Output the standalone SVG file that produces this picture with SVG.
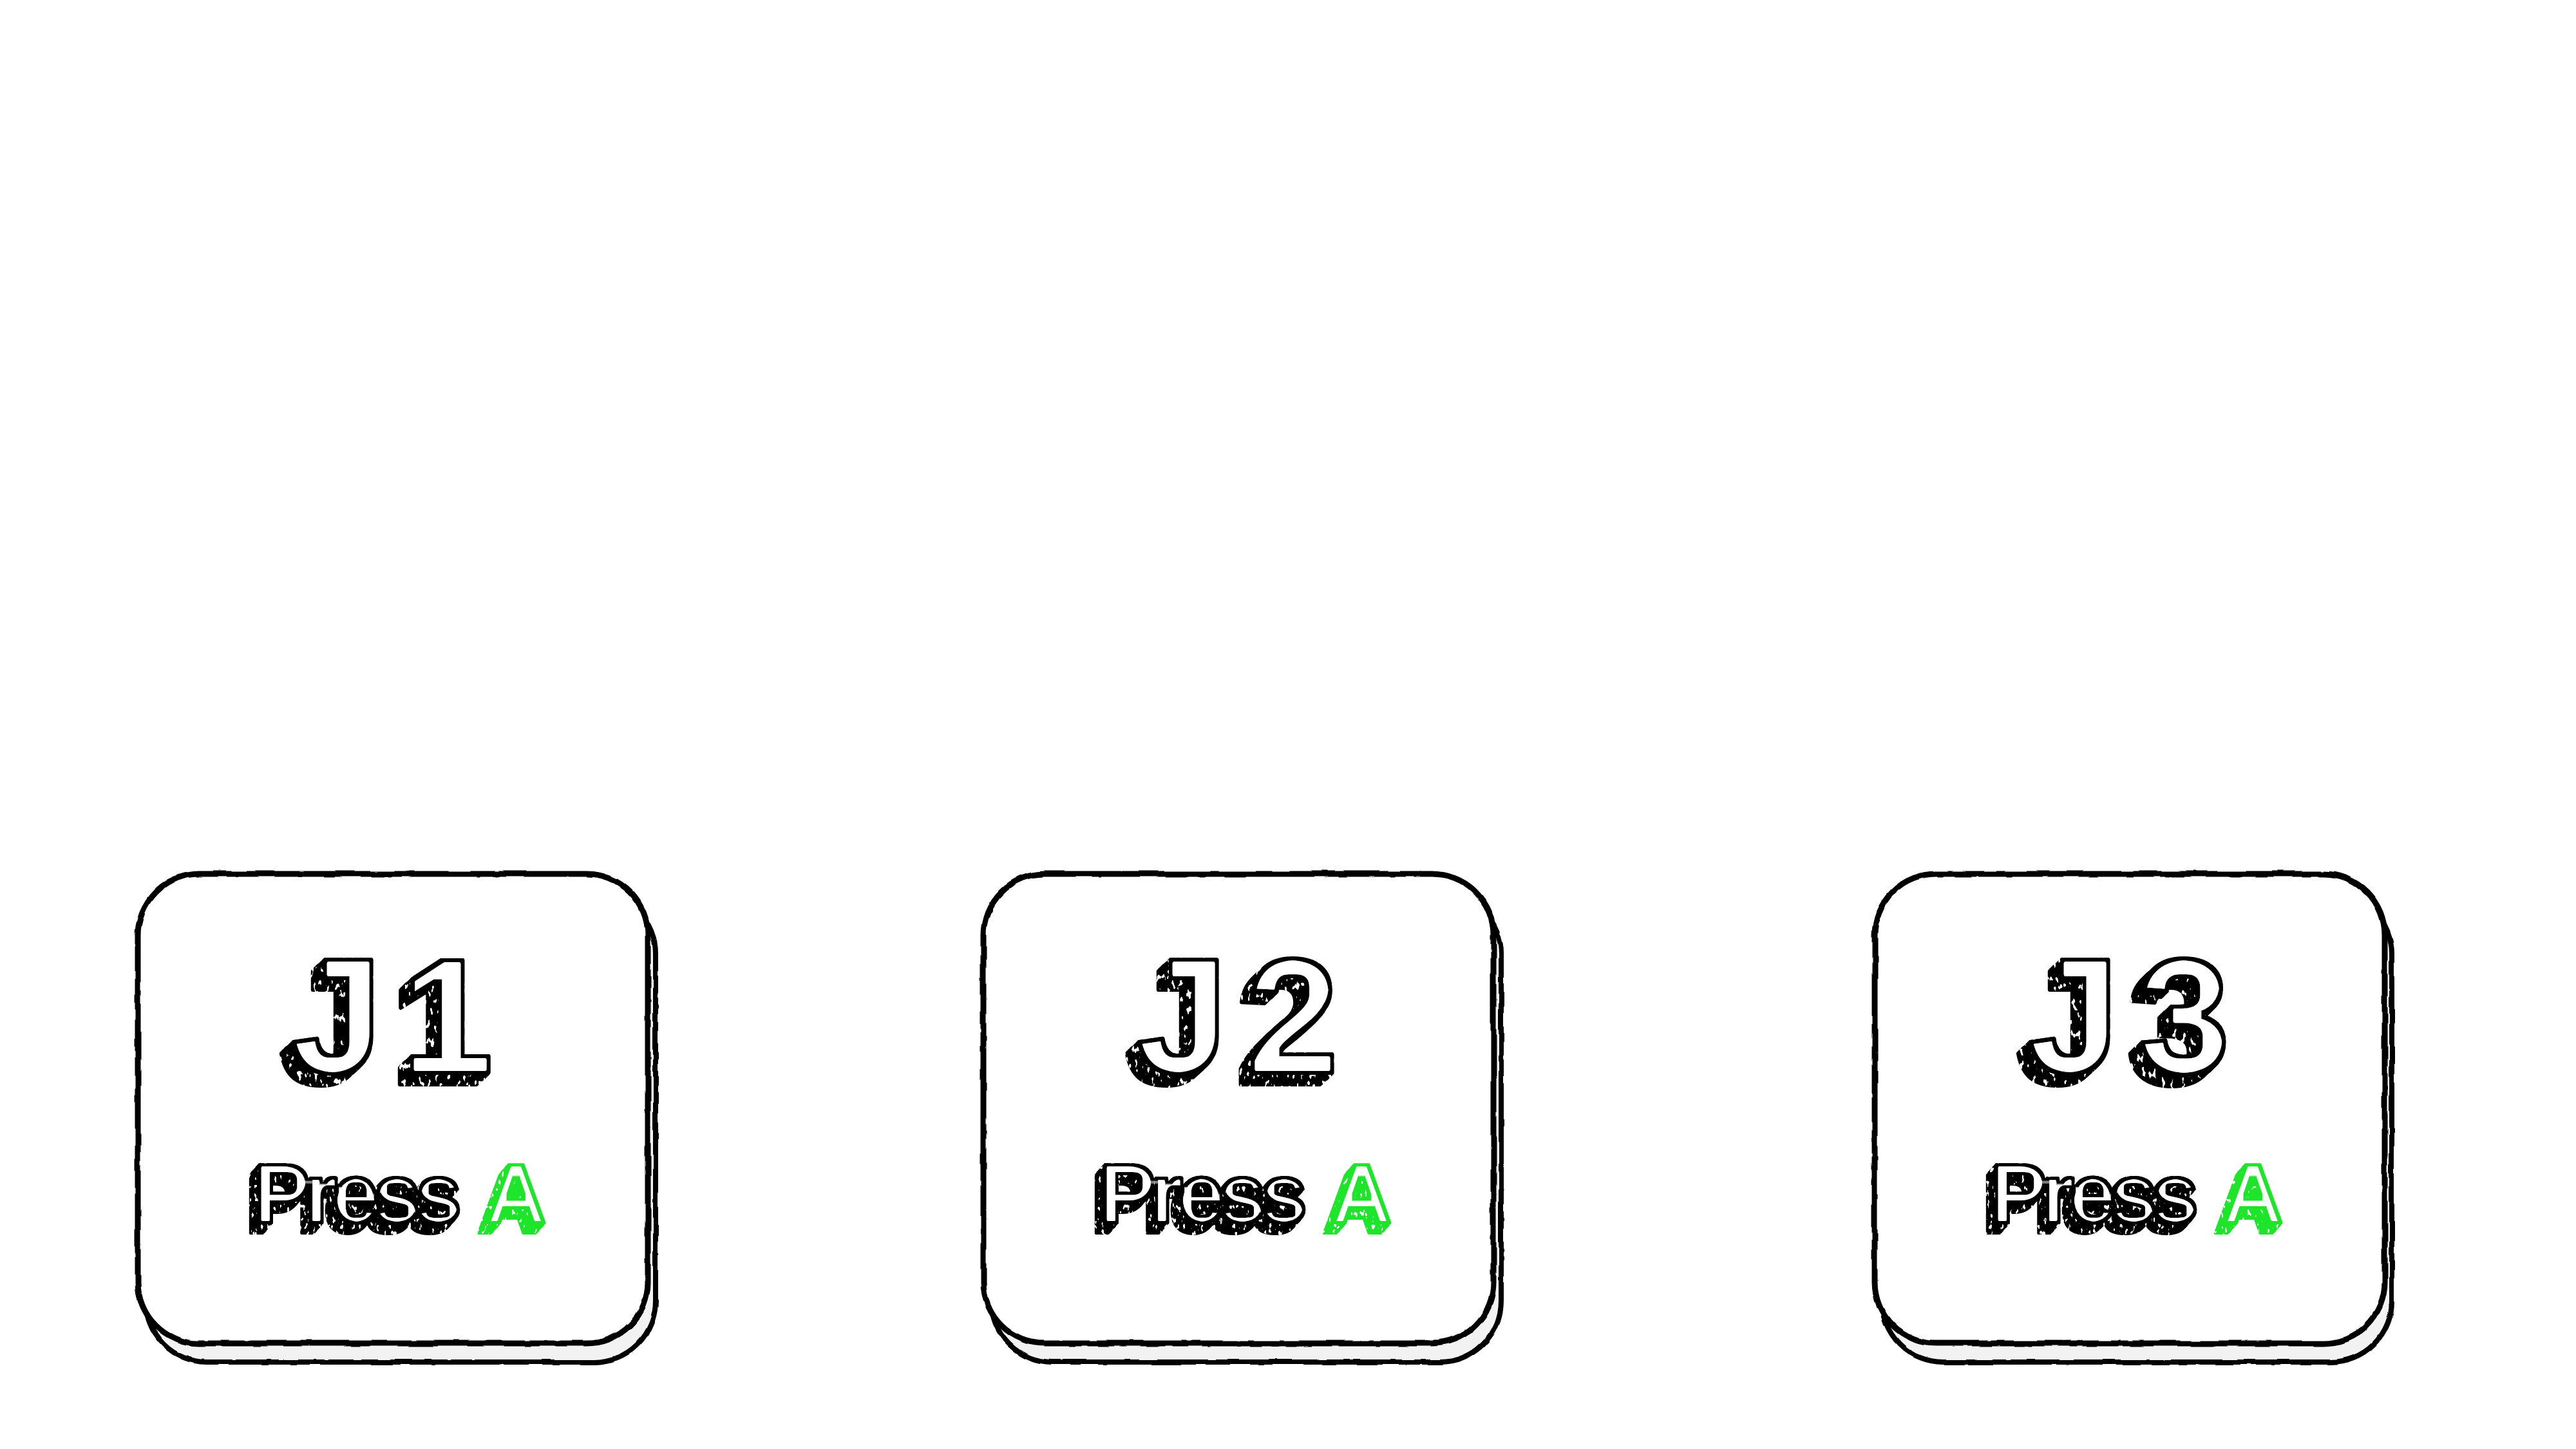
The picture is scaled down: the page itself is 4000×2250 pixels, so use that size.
<svg xmlns="http://www.w3.org/2000/svg" width="4000" height="2250" viewBox="0 0 4000 2250">
  <style>
    .shadow { fill: #f2f2f2; stroke: #000; stroke-width: 8; filter: url(#rough); }
    .face { fill: #ffffff; stroke: #000; stroke-width: 9; filter: url(#rough); }
    .big { font-family: "Liberation Sans", Arial, sans-serif; font-weight: 700; font-size: 255px; letter-spacing: 30px; fill: #000; stroke: #000; stroke-width: 6; stroke-linejoin: round; filter: url(#ext-big); }
    .small { font-family: "Liberation Sans", Arial, sans-serif; font-weight: 700; font-size: 132px; letter-spacing: -9px; fill: #000; stroke: #000; stroke-width: 4; stroke-linejoin: round; filter: url(#ext-small); }
    .green { fill: #1fe52c; stroke: #1fe52c; }
  </style>
  <defs>
    <filter id="rough" x="-5%" y="-5%" width="110%" height="110%">
      <feTurbulence type="fractalNoise" baseFrequency="0.03" numOctaves="2" seed="3" result="n"/>
      <feDisplacementMap in="SourceGraphic" in2="n" scale="5" xChannelSelector="R" yChannelSelector="G"/>
    </filter>
    <filter id="ext-big" x="-25%" y="-25%" width="150%" height="150%">
      <feOffset in="SourceGraphic" dx="-2.5" dy="2.25" result="o1"/>
      <feMerge result="m1"><feMergeNode in="SourceGraphic"/><feMergeNode in="o1"/></feMerge>
      <feOffset in="m1" dx="-5" dy="4.5" result="o2"/>
      <feMerge result="m2"><feMergeNode in="m1"/><feMergeNode in="o2"/></feMerge>
      <feOffset in="m2" dx="-10" dy="9" result="o3"/>
      <feMerge result="m3"><feMergeNode in="m2"/><feMergeNode in="o3"/></feMerge>
      <feOffset in="m3" dx="-2.5" dy="2.25" result="o4"/>
      <feMerge result="ext"><feMergeNode in="m3"/><feMergeNode in="o4"/></feMerge>
      <feTurbulence type="fractalNoise" baseFrequency="0.16 0.08" numOctaves="2" seed="7" result="noise"/>
      <feColorMatrix in="noise" type="matrix" values="0 0 0 0 1  0 0 0 0 1  0 0 0 0 1  -18 0 0 0 6.6" result="specks"/>
      <feComposite in="specks" in2="ext" operator="in" result="specksIn"/>
      <feMorphology in="SourceAlpha" operator="erode" radius="6" result="coreA"/>
      <feFlood flood-color="#ffffff" result="white"/>
      <feComposite in="white" in2="coreA" operator="in" result="core"/>
      <feMerge>
        <feMergeNode in="ext"/>
        <feMergeNode in="specksIn"/>
        <feMergeNode in="SourceGraphic"/>
        <feMergeNode in="core"/>
      </feMerge>
    </filter>
    <filter id="ext-small" x="-15%" y="-30%" width="130%" height="160%">
      <feOffset in="SourceGraphic" dx="-1.75" dy="1.9" result="o1"/>
      <feMerge result="m1"><feMergeNode in="SourceGraphic"/><feMergeNode in="o1"/></feMerge>
      <feOffset in="m1" dx="-3.5" dy="3.8" result="o2"/>
      <feMerge result="m2"><feMergeNode in="m1"/><feMergeNode in="o2"/></feMerge>
      <feOffset in="m2" dx="-7" dy="7.6" result="o3"/>
      <feMerge result="m3"><feMergeNode in="m2"/><feMergeNode in="o3"/></feMerge>
      <feOffset in="m3" dx="-1.75" dy="1.9" result="o4"/>
      <feMerge result="ext"><feMergeNode in="m3"/><feMergeNode in="o4"/></feMerge>
      <feTurbulence type="fractalNoise" baseFrequency="0.2 0.1" numOctaves="2" seed="11" result="noise"/>
      <feColorMatrix in="noise" type="matrix" values="0 0 0 0 1  0 0 0 0 1  0 0 0 0 1  -18 0 0 0 6.4" result="specks"/>
      <feComposite in="specks" in2="ext" operator="in" result="specksIn"/>
      <feMorphology in="SourceAlpha" operator="erode" radius="4.5" result="coreA"/>
      <feFlood flood-color="#ffffff" result="white"/>
      <feComposite in="white" in2="coreA" operator="in" result="core"/>
      <feMerge>
        <feMergeNode in="ext"/>
        <feMergeNode in="specksIn"/>
        <feMergeNode in="SourceGraphic"/>
        <feMergeNode in="core"/>
      </feMerge>
    </filter>
  </defs>

  <rect x="0" y="0" width="4000" height="2250" fill="#ffffff"/>

  <g id="connectors"></g>

  <g id="card-j1">
    <rect class="shadow" x="226" y="1386" width="792" height="729" rx="95"/>
    <rect class="face" x="214" y="1357" width="792" height="729" rx="95"/>
    <text class="big" x="452" y="1666">J1</text>
    <text class="small" x="394" y="1899">Press <tspan class="green" dx="22">A</tspan></text>
  </g>

  <g id="card-j2">
    <rect class="shadow" x="1539" y="1386" width="792" height="729" rx="95"/>
    <rect class="face" x="1527" y="1357" width="792" height="729" rx="95"/>
    <text class="big" x="1765" y="1666">J2</text>
    <text class="small" x="1707" y="1899">Press <tspan class="green" dx="22">A</tspan></text>
  </g>

  <g id="card-j3">
    <rect class="shadow" x="2922" y="1386" width="792" height="729" rx="95"/>
    <rect class="face" x="2911" y="1357" width="792" height="729" rx="95"/>
    <text class="big" x="3149" y="1666">J3</text>
    <text class="small" x="3091" y="1899">Press <tspan class="green" dx="22">A</tspan></text>
  </g>
</svg>
